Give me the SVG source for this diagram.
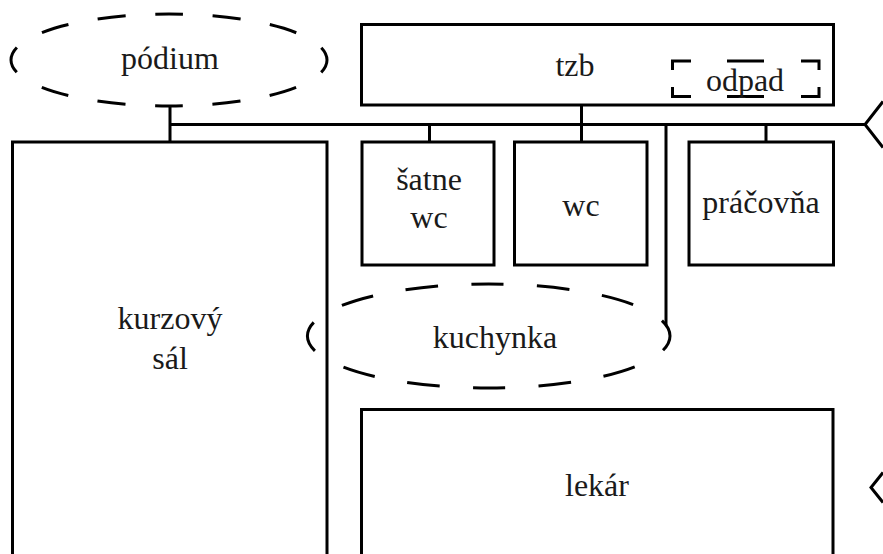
<svg xmlns="http://www.w3.org/2000/svg" width="883" height="554" viewBox="0 0 883 554">
<style>
.s{fill:none;stroke:#000;stroke-width:3}
text{font-family:"Liberation Serif","DejaVu Serif",serif;font-size:32px;fill:#1a1a1a;text-anchor:middle}
</style>
<rect width="883" height="554" fill="#fff"/>
<g id="connectors" class="s">
<path d="M170 106V142M170 124.500H865M429.500 124.500V142M581.500 105V142M766 124.500V142M666 124.500V325"/>
</g>
<g id="podium"><ellipse class="s" cx="169" cy="60" rx="158" ry="46" stroke-dasharray="28 29.500" stroke-dashoffset="14"/><text x="170" y="69">pódium</text></g>
<g id="tzb"><rect class="s" x="361.500" y="24.500" width="472" height="80.500"/><text x="575" y="76">tzb</text></g>
<g id="odpad"><path class="s" d="M691 61H672.500V70M672.500 87V96.500H691M727 61H764M727 96.500H764M801 61H819V70M819 87V96.500H801"/><text x="745" y="91">odpad</text></g>
<g id="kurzovy-sal"><path class="s" d="M12.500 554V142H327V554"/><text x="170" y="329">kurzový</text><text x="170" y="369">sál</text></g>
<g id="satne-wc"><rect class="s" x="362" y="142" width="132" height="123"/><text x="429" y="190">šatne</text><text x="429" y="228">wc</text></g>
<g id="wc"><rect class="s" x="514.500" y="142" width="132.500" height="123"/><text x="581" y="216">wc</text></g>
<g id="pracovna"><rect class="s" x="689" y="142" width="144.500" height="123"/><text x="761" y="213">práčovňa</text></g>
<g id="kuchynka"><ellipse class="s" cx="488.700" cy="336" rx="181.300" ry="52" stroke-dasharray="32.500 33.200" stroke-dashoffset="16.250"/><text x="495" y="348">kuchynka</text></g>
<g id="lekar"><path class="s" d="M361.500 554V409.500H833V554"/><text x="597" y="496">lekár</text></g>
<g id="right-shapes"><path class="s" d="M883 101.500L865 124.500L883 147.500"/><path class="s" d="M883 472.500L871 487.500L883 502.500"/></g>
</svg>
